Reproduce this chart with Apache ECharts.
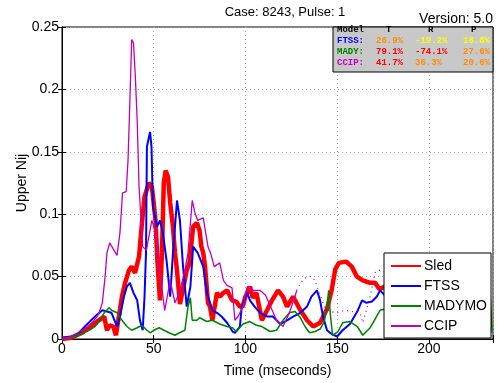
<!DOCTYPE html>
<html>
<head>
<meta charset="utf-8">
<script src="https://cdn.jsdelivr.net/npm/echarts@6/dist/echarts.min.js"></script>
<style>
  html, body { margin: 0; padding: 0; background: #fff; }
  #chart { width: 497px; height: 383px; }
</style>
</head>
<body>
<div id="chart"></div>
<script>
// [time ms, upper Nij] pairs
var sled = [[0,0],[5,0.001],[11,0.005],[16,0.01],[20,0.015],[23,0.018],[24.5,0.007],[26,0.011],[28,0.01],[29.4,0.003],[31,0.018],[32.7,0.034],[34.4,0.045],[36.5,0.055],[38,0.058],[39.8,0.053],[42,0.066],[43.6,0.093],[45,0.114],[47.4,0.125],[49,0.122],[50,0.109],[51,0.095],[52,0.063],[53.4,0.031],[54.5,0.069],[55.5,0.125],[56.5,0.135],[57.8,0.13],[59,0.109],[60.5,0.09],[61.6,0.069],[62.7,0.055],[64.3,0.028],[66,0.04],[68,0.055],[69.5,0.061],[71.5,0.09],[73.6,0.093],[75,0.087],[76,0.074],[77,0.069],[78,0.058],[79.6,0.029],[80.7,0.026],[82,0.015],[84.5,0.037],[86,0.034],[88,0.037],[90,0.039],[92.7,0.031],[95,0.03],[97,0.026],[98.5,0.026],[100,0.034],[102.5,0.042],[104,0.033],[106,0.037],[109,0.015],[111.8,0.023],[114.5,0.031],[117.8,0.039],[120.5,0.034],[122.7,0.026],[126,0.034],[130,0.023],[133.6,0.015],[137,0.01],[140.7,0.013],[144.5,0.024],[147,0.039],[149,0.056],[151,0.061],[155,0.062],[158,0.058],[160.8,0.05],[164,0.047],[168,0.045],[170.7,0.045],[173,0.04],[176,0.042],[180,0.045],[185,0.04],[190,0.035],[200,0.03],[210,0.028],[220,0.025],[230,0.022],[234,0.023]];

var ftss = [[0,0.001],[5,0.002],[8,0.003],[12.5,0.01],[18,0.018],[22,0.023],[24.5,0.022],[27,0.021],[30,0.01],[31.6,0.018],[33.8,0.034],[35.4,0.042],[37,0.045],[39,0.037],[41,0.031],[42.5,0.015],[44,0.007],[45,0.034],[45.8,0.069],[46.3,0.154],[48,0.166],[48.8,0.154],[49.6,0.106],[51.8,0.09],[53.4,0.095],[55,0.085],[57,0.063],[59,0.034],[60.5,0.069],[62.7,0.111],[64.3,0.095],[66,0.058],[68,0.026],[70,0.042],[71.5,0.074],[74,0.069],[77,0.058],[79,0.037],[80.5,0.03],[82,0.023],[84.5,0.021],[87,0.018],[90,0.013],[93,0.006],[94.3,0.005],[97,0.01],[98,0.026],[101,0.037],[102.5,0.031],[105,0.026],[108,0.021],[112,0.018],[115,0.018],[119,0.012],[122.7,0.015],[126,0.018],[130,0.021],[133.6,0.026],[136,0.034],[139,0.039],[140.7,0.031],[142.3,0.018],[144.5,0.007],[147,0.004],[150,0.002],[153,0.007],[157,0.012],[161,0.022],[163.6,0.031],[166,0.029],[169,0.03],[171.7,0.034],[173.4,0.039],[176,0.035],[180,0.03],[185,0.015],[190,0.002],[195,0.01],[200,0.02],[210,0.015],[220,0.01],[230,0.005],[234,0.002]];

var madymo = [[0,0],[7,0.002],[11,0.005],[14.7,0.007],[18,0.01],[20.7,0.015],[23,0.021],[25.6,0.025],[27,0.023],[30,0.021],[32.7,0.015],[35.4,0.01],[38,0.007],[41,0.009],[43.6,0.011],[46.3,0.007],[48,0.005],[50,0.007],[53,0.009],[55.6,0.007],[58.3,0.005],[61.6,0.003],[64,0.005],[67,0.007],[68.7,0.026],[70,0.033],[71,0.015],[73.6,0.015],[75,0.017],[79,0.014],[82,0.015],[86,0.012],[90,0.01],[93,0.009],[95,0.006],[98.7,0.012],[102.5,0.014],[106,0.011],[109,0.01],[113.4,0.006],[117,0.007],[120.5,0.015],[124,0.021],[127,0.022],[130,0.017],[132.5,0.01],[135,0.005],[138,0.006],[140.7,0.008],[143,0.014],[144.5,0.026],[145.4,0.039],[146.3,0.02],[147.5,0.003],[150.5,0.006],[153,0.013],[157,0.014],[161,0.01],[164,0.003],[168,0.009],[170.7,0.016],[173.4,0.023],[176,0.024],[180,0.02],[190,0.012],[200,0.008],[211,0.002],[220,0.01],[228,0.03],[233,0.05],[234.5,0.005]];

var ccip = [[0,0],[5,0.002],[9.8,0.006],[14,0.01],[17,0.014],[20,0.02],[22,0.029],[23.5,0.05],[24.5,0.069],[26,0.077],[28,0.072],[30,0.067],[31.6,0.085],[33,0.117],[35,0.118],[36,0.143],[37,0.19],[38,0.24],[39,0.237],[40,0.21],[41,0.175],[42,0.122],[44,0.074],[46,0.071],[48,0.087],[49,0.095],[51,0.085],[53.4,0.053],[56,0.023],[59,0.047],[61.6,0.029],[64,0.037],[67,0.055],[68.7,0.069],[71,0.111],[72.5,0.101],[74,0.095],[77,0.097],[79.6,0.074],[81,0.069],[83,0.058],[86,0.061],[88,0.047],[90,0.043],[92.7,0.041],[94.3,0.015],[96,0.018],[98.7,0.026],[101,0.042],[104,0.039],[108,0.039],[111,0.035],[114,0.025],[117,0.015],[120.5,0.01],[124,0.021],[127,0.034],[128,0.039],[130,0.045],[133.6,0.05],[136,0.05],[138,0.047],[141,0.034],[143,0.026],[146,0.022],[150,0.021],[154,0.023],[158,0.022],[162.5,0.021],[164,0.013],[168,0.034],[170.7,0.053],[172,0.055],[175,0.055],[180,0.05],[190,0.04],[200,0.035],[210,0.03],[220,0.03],[230,0.03],[234,0.03]];
var ccipDottedFrom = 128; // CCIP trace turns sparse/dotted after this time

var xTicks = [0, 50, 100, 150, 200];
var yTicks = [0, 0.05, 0.1, 0.15, 0.2, 0.25];

// correlation table (top right)
var tableHead = ['Model', 'T', 'R', 'P'];
var tableModels = ['FTSS:', 'MADY:', 'CCIP:'];
var tableModelColors = ['#0000ff', '#008000', '#c000c0'];
var tableVals = [['26.9%', '-19.2%', '18.8%'], ['79.1%', '-74.1%', '27.6%'], ['41.7%', '36.3%', '20.6%']];
var tableValColors = [['#ff8c00', '#ffff00', '#ffff00'], ['#ff0000', '#ff0000', '#ff8c00'], ['#ff0000', '#ff8c00', '#ff8c00']];

var font = 'Liberation Sans, Arial, sans-serif';
var mono = 'bold 9px Liberation Mono, monospace';
var chart = echarts.init(document.getElementById('chart'));

var ccipSolid = ccip.filter(function (p) { return p[0] <= ccipDottedFrom; });
var ccipDot = ccip.filter(function (p) { return p[0] >= ccipDottedFrom; });

var graphics = [{
  type: 'rect', shape: {x: 333, y: 27, width: 160, height: 45},
  style: {fill: '#c8c8c8', stroke: '#000', lineWidth: 1}, z: 100
}];
var colX = [337, 376, 415, 463];
var headX = [337, 386, 428, 471];
var rowY = [25, 36, 47, 58];
tableHead.forEach(function (h, i) {
  graphics.push({type: 'text', left: headX[i], top: rowY[0], z: 101,
    style: {text: h, fill: '#000', font: mono}});
});
tableModels.forEach(function (m, r) {
  graphics.push({type: 'text', left: colX[0], top: rowY[r + 1], z: 101,
    style: {text: m, fill: tableModelColors[r], font: mono}});
  tableVals[r].forEach(function (v, c) {
    graphics.push({type: 'text', left: colX[c + 1], top: rowY[r + 1], z: 101,
      style: {text: v, fill: tableValColors[r][c], font: mono}});
  });
});
graphics.push({type: 'text', right: 4, top: 12, z: 101,
  style: {text: 'Version: 5.0', fill: '#000', font: '14px ' + font}});

var gridLine = {show: true, lineStyle: {color: '#aaa', type: [1, 3], width: 1}};

chart.setOption({
  animation: false,
  backgroundColor: '#fff',
  textStyle: {fontFamily: font},
  title: {
    text: 'Case: 8243, Pulse: 1', left: 280, top: 1, textAlign: 'center',
    textStyle: {fontSize: 13, fontWeight: 'normal', color: '#000', fontFamily: font}
  },
  grid: {left: 62, right: 4, top: 27, bottom: 44, show: true, borderColor: '#000', borderWidth: 1},
  xAxis: [{
    type: 'value', min: 0, max: 235, interval: 50,
    name: 'Time (mseconds)', nameLocation: 'middle', nameGap: 25,
    nameTextStyle: {fontSize: 14, color: '#000', fontFamily: font},
    axisLine: {show: true, lineStyle: {color: '#000'}},
    axisTick: {show: true, inside: true, length: 4, lineStyle: {color: '#000'}},
    axisLabel: {fontSize: 14, color: '#000', margin: 3, fontFamily: font,
      formatter: function (v) { return xTicks.indexOf(v) >= 0 ? String(v) : ''; }},
    splitLine: gridLine
  }, {
    type: 'value', position: 'top', min: 0, max: 235, interval: 50,
    axisLine: {show: false}, axisLabel: {show: false}, splitLine: {show: false},
    axisTick: {show: true, inside: true, length: 4, lineStyle: {color: '#000'}}
  }],
  yAxis: [{
    type: 'value', min: 0, max: 0.25, interval: 0.05,
    name: 'Upper Nij', nameLocation: 'middle', nameGap: 33, nameMoveOverlap: false,
    nameTextStyle: {fontSize: 14, color: '#000', fontFamily: font},
    axisLine: {show: true, lineStyle: {color: '#000'}},
    axisTick: {show: true, inside: true, length: 4, lineStyle: {color: '#000'}},
    axisLabel: {fontSize: 14, color: '#000', margin: 3, fontFamily: font,
      formatter: function (v) {
        var t = yTicks.filter(function (y) { return Math.abs(y - v) < 1e-9; })[0];
        return t === undefined ? '' : String(t);
      }},
    splitLine: gridLine
  }, {
    type: 'value', position: 'right', min: 0, max: 0.25, interval: 0.05,
    axisLine: {show: false}, axisLabel: {show: false}, splitLine: {show: false},
    axisTick: {show: true, inside: true, length: 4, lineStyle: {color: '#000'}}
  }],
  legend: {
    orient: 'vertical', left: 384, top: 253,
    data: ['Sled', 'FTSS', 'MADYMO', 'CCIP'],
    backgroundColor: '#fff', borderColor: '#000', borderWidth: 1,
    padding: [6, 4, 5, 6], itemWidth: 30, itemHeight: 14, itemGap: 6,
    itemStyle: {opacity: 0},
    textStyle: {fontSize: 14, color: '#000', fontFamily: font, padding: [0, 0, 0, -2]},
    z: 50
  },
  graphic: graphics,
  series: [
    {name: 'Sled', type: 'line', data: sled, symbol: 'none', z: 2,
      lineStyle: {color: '#ff0000', width: 4.5}, itemStyle: {color: '#ff0000'}},
    {name: 'FTSS', type: 'line', data: ftss, symbol: 'none', z: 3,
      lineStyle: {color: '#0000ff', width: 2}, itemStyle: {color: '#0000ff'}},
    {name: 'MADYMO', type: 'line', data: madymo, symbol: 'none', z: 4,
      lineStyle: {color: '#008000', width: 1.5}, itemStyle: {color: '#008000'}},
    {name: 'CCIP', type: 'line', data: ccipSolid, symbol: 'none', z: 5,
      lineStyle: {color: '#c000c0', width: 1.3}, itemStyle: {color: '#c000c0'}},
    {name: 'CCIP', type: 'line', data: ccipDot, symbol: 'none', z: 5,
      lineStyle: {color: '#c000c0', width: 1.3, type: [1, 4]}, itemStyle: {color: '#c000c0'}}
  ]
});
</script>
</body>
</html>
